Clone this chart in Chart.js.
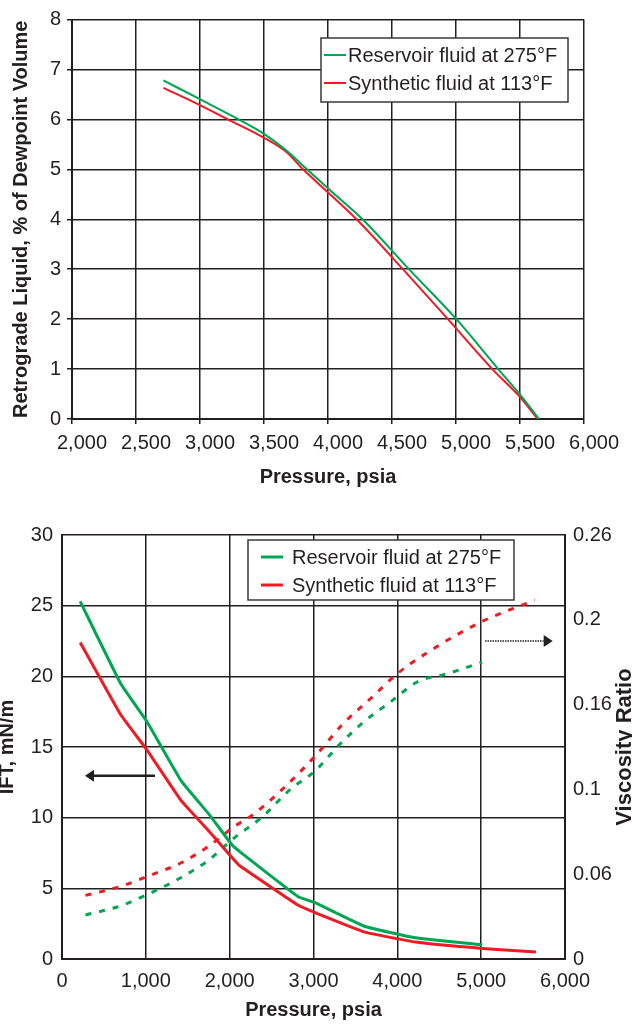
<!DOCTYPE html>
<html><head><meta charset="utf-8">
<script src="https://cdn.jsdelivr.net/npm/chart.js@4.4.1/dist/chart.umd.min.js"></script>
<style>
html,body{margin:0;padding:0;background:#fff;width:632px;height:1024px;overflow:hidden;}
.wrap{position:absolute;left:0;width:632px;}
</style></head><body>
<div class="wrap" style="top:0;height:490px"><canvas id="c1" width="632" height="490"></canvas></div>
<div class="wrap" style="top:490px;height:534px"><canvas id="c2" width="632" height="534"></canvas></div>
<script>
// ---------- Data: top chart (retrograde liquid) ----------
const seriesNames = ['Reservoir fluid at 275°F', 'Synthetic fluid at 113°F'];
const topPressureRes = [2714, 3003, 3302, 3500, 3673, 3836, 4003, 4270, 4632, 5003, 5330, 5513, 5648];
const topLiquidRes   = [6.78, 6.40, 6.00, 5.71, 5.38, 5.00, 4.61, 4.00, 3.00, 2.00, 1.00, 0.45, 0];
const topPressureSyn = [2714, 3003, 3217, 3500, 3673, 3805, 4003, 4223, 4585, 4937, 5283, 5497, 5638];
const topLiquidSyn   = [6.63, 6.28, 6.00, 5.63, 5.35, 5.00, 4.53, 4.00, 3.00, 2.00, 1.00, 0.45, 0];

// ---------- Data: bottom chart (IFT + viscosity ratio) ----------
const iftPressureRes = [217, 699, 1012, 1422, 1759, 2024, 2120, 2819, 3012, 3614, 4217, 5012];
const iftRes         = [25.3, 19.5, 16.8, 12.6, 10.2, 8.1, 7.6, 4.4, 4.0, 2.3, 1.5, 1.0];
const iftPressureSyn = [217, 699, 1012, 1422, 1759, 2024, 2120, 2819, 3012, 3614, 4217, 5012, 5653];
const iftSyn         = [22.4, 17.3, 14.8, 11.2, 9.0, 7.2, 6.6, 3.8, 3.3, 1.9, 1.2, 0.75, 0.5];
const viscPressureRes = [280, 699, 1036, 1422, 1759, 2048, 2386, 2723, 3012, 3301, 3590, 3928, 4241, 4602, 5012];
const viscRes         = [0.027, 0.0326, 0.040, 0.050, 0.061, 0.074, 0.087, 0.104, 0.115, 0.131, 0.145, 0.158, 0.170, 0.175, 0.182];
const viscPressureSyn = [280, 699, 1036, 1422, 1759, 2048, 2265, 2627, 3012, 3349, 3687, 4000, 4361, 5012, 5639];
const viscSyn         = [0.039, 0.0445, 0.051, 0.059, 0.0695, 0.081, 0.088, 0.104, 0.124, 0.144, 0.160, 0.175, 0.188, 0.207, 0.220];
const viscTickValues = [0, 0.052, 0.104, 0.156, 0.208, 0.26];
const viscTickLabels = ['0', '0.06', '0.1', '0.16', '0.2', '0.26'];

// ---------- styling ----------
const GREEN = '#00a651', RED = '#ed1c24', INK = '#231f20';
Chart.defaults.font.family = "'Liberation Sans', Arial, sans-serif";
Chart.defaults.font.size = 20;
Chart.defaults.color = INK;
const pts = (xs, ys) => xs.map((x, i) => ({x, y: ys[i]}));
const fmt = v => Number(v).toLocaleString('en-US');

const boxLegend = {
  id: 'boxLegend',
  afterDraw(chart, args, o) {
    const ctx = chart.ctx, a = chart.chartArea;
    const x = a.left + o.dx, y = a.top + o.dy;
    ctx.save();
    ctx.fillStyle = '#fff';
    ctx.fillRect(x, y, o.w, o.h);
    ctx.strokeStyle = '#3a3a3a'; ctx.lineWidth = 1.5;
    ctx.strokeRect(x, y, o.w, o.h);
    const items = chart.data.datasets.filter(d => d.legend);
    ctx.font = "20px 'Liberation Sans', Arial, sans-serif";
    ctx.textBaseline = 'middle'; ctx.textAlign = 'left';
    items.forEach((d, i) => {
      const ry = y + o.rows[i];
      ctx.strokeStyle = d.borderColor; ctx.lineWidth = o.lineW; ctx.setLineDash([]);
      ctx.beginPath(); ctx.moveTo(x + o.l0, ry); ctx.lineTo(x + o.l1, ry); ctx.stroke();
      ctx.fillStyle = INK; ctx.fillText(d.label, x + o.tx, ry + 1);
    });
    ctx.restore();
  }
};

const arrows = {
  id: 'arrows',
  afterDatasetsDraw(chart, args, o) {
    if (!o.list) return;
    const ctx = chart.ctx, sx = chart.scales.x, sy = chart.scales.y;
    ctx.save();
    o.list.forEach(ar => {
      const x0 = sx.getPixelForValue(ar.from[0]), x1 = sx.getPixelForValue(ar.to[0]);
      const yy = sy.getPixelForValue(ar.from[1]);
      const dir = Math.sign(x1 - x0), head = 9;
      ctx.strokeStyle = INK; ctx.fillStyle = INK;
      ctx.lineWidth = ar.dotted ? 1.5 : 2.5;
      ctx.setLineDash(ar.dotted ? [1.5, 1] : []);
      ctx.beginPath(); ctx.moveTo(x0, yy); ctx.lineTo(x1 - dir * head, yy); ctx.stroke();
      ctx.setLineDash([]);
      ctx.beginPath(); ctx.moveTo(x1, yy); ctx.lineTo(x1 - dir * head, yy - 6); ctx.lineTo(x1 - dir * head, yy + 6); ctx.closePath(); ctx.fill();
    });
    ctx.restore();
  }
};

const sideTitle = {
  id: 'sideTitle',
  afterDraw(chart, args, o) {
    if (!o.text) return;
    const ctx = chart.ctx, a = chart.chartArea;
    ctx.save();
    ctx.translate(o.x, (a.top + a.bottom) / 2);
    ctx.rotate(-Math.PI / 2);
    ctx.font = "bold 22px 'Liberation Sans', Arial, sans-serif";
    ctx.fillStyle = INK; ctx.textAlign = 'center'; ctx.textBaseline = 'alphabetic';
    ctx.fillText(o.text, 0, 0);
    ctx.restore();
  }
};

// ---------- Top chart ----------
new Chart(document.getElementById('c1'), {
  type: 'line',
  data: {
    datasets: [
      {label: seriesNames[0], legend: true, data: pts(topPressureRes, topLiquidRes), borderColor: GREEN, borderWidth: 2, pointRadius: 0, cubicInterpolationMode: 'monotone'},
      {label: seriesNames[1], legend: true, data: pts(topPressureSyn, topLiquidSyn), borderColor: RED, borderWidth: 2, pointRadius: 0, cubicInterpolationMode: 'monotone'}
    ]
  },
  options: {
    responsive: false, animation: false,
    layout: {padding: {top: 19.5, right: 48, left: 0, bottom: 1}},
    plugins: {legend: {display: false}, tooltip: {enabled: false},
      boxLegend: {dx: 249, dy: 18.5, w: 247, h: 64, rows: [17, 45], l0: 3, l1: 25, tx: 27, lineW: 2}},
    scales: {
      x: {type: 'linear', min: 2000, max: 6000,
        afterFit: s => { s.height = 70; },
        border: {color: INK, width: 2},
        grid: {color: INK, lineWidth: 1.5, tickLength: 5},
        ticks: {stepSize: 500, callback: fmt, labelOffset: 10, padding: 7, maxRotation: 0, color: INK},
        title: {display: true, text: 'Pressure, psia', font: {weight: 'bold', size: 20}, padding: {top: 0, bottom: 0}, color: INK}},
      y: {min: 0, max: 8,
        afterFit: s => { s.width = 72; },
        border: {color: INK, width: 2},
        grid: {color: INK, lineWidth: 1.5, tickLength: 5},
        ticks: {stepSize: 1, padding: 6, color: INK},
        title: {display: true, text: 'Retrograde Liquid, % of Dewpoint Volume', font: {weight: 'bold', size: 20}, padding: {top: 9, bottom: 0}, color: INK}}
    }
  },
  plugins: [boxLegend]
});

// ---------- Bottom chart ----------
new Chart(document.getElementById('c2'), {
  type: 'line',
  data: {
    datasets: [
      {label: seriesNames[0], legend: true, data: pts(iftPressureRes, iftRes), yAxisID: 'y', borderColor: GREEN, borderWidth: 3, pointRadius: 0, tension: 0.1},
      {label: seriesNames[1], legend: true, data: pts(iftPressureSyn, iftSyn), yAxisID: 'y', borderColor: RED, borderWidth: 3, pointRadius: 0, tension: 0.1},
      {label: seriesNames[0] + ' (viscosity)', data: pts(viscPressureRes, viscRes), yAxisID: 'y2', borderColor: GREEN, borderWidth: 3, borderDash: [6, 8], pointRadius: 0, cubicInterpolationMode: 'monotone'},
      {label: seriesNames[1] + ' (viscosity)', data: pts(viscPressureSyn, viscSyn), yAxisID: 'y2', borderColor: RED, borderWidth: 3, borderDash: [6, 8], pointRadius: 0, cubicInterpolationMode: 'monotone'}
    ]
  },
  options: {
    responsive: false, animation: false,
    layout: {padding: {top: 45, right: 0, left: 0, bottom: 0}},
    plugins: {legend: {display: false}, tooltip: {enabled: false},
      boxLegend: {dx: 186, dy: 5, w: 266, h: 60, rows: [17, 45], l0: 13, l1: 35, tx: 44, lineW: 3},
      arrows: {list: [{from: [1109, 12.97], to: [274, 12.97], dotted: false}, {from: [5046, 22.5], to: [5853, 22.5], dotted: true}]},
      sideTitle: {text: 'Viscosity Ratio', x: 631}},
    scales: {
      x: {type: 'linear', min: 0, max: 6000,
        afterFit: s => { s.height = 65; },
        border: {color: INK, width: 2},
        grid: {color: INK, lineWidth: 1.5, drawTicks: false},
        ticks: {stepSize: 1000, callback: fmt, padding: 10, maxRotation: 0, color: INK},
        title: {display: true, text: 'Pressure, psia', font: {weight: 'bold', size: 20}, padding: {top: 0, bottom: 2}, color: INK}},
      y: {position: 'left', min: 0, max: 30,
        afterFit: s => { s.width = 62; },
        border: {color: INK, width: 2},
        grid: {color: INK, lineWidth: 1.5, drawTicks: false},
        ticks: {stepSize: 5, padding: 9, color: INK},
        title: {display: true, text: 'IFT, mN/m', font: {weight: 'bold', size: 20}, padding: {top: -5, bottom: 0}, color: INK}},
      y2: {position: 'right', min: 0, max: 0.26,
        afterFit: s => { s.width = 67; },
        afterBuildTicks: s => { s.ticks = viscTickValues.map(v => ({value: v})); },
        border: {color: INK, width: 2},
        grid: {drawOnChartArea: false, drawTicks: false},
        ticks: {padding: 8, color: INK, callback: (v, i) => viscTickLabels[i]}}
    }
  },
  plugins: [boxLegend, arrows, sideTitle]
});
</script>
</body></html>
